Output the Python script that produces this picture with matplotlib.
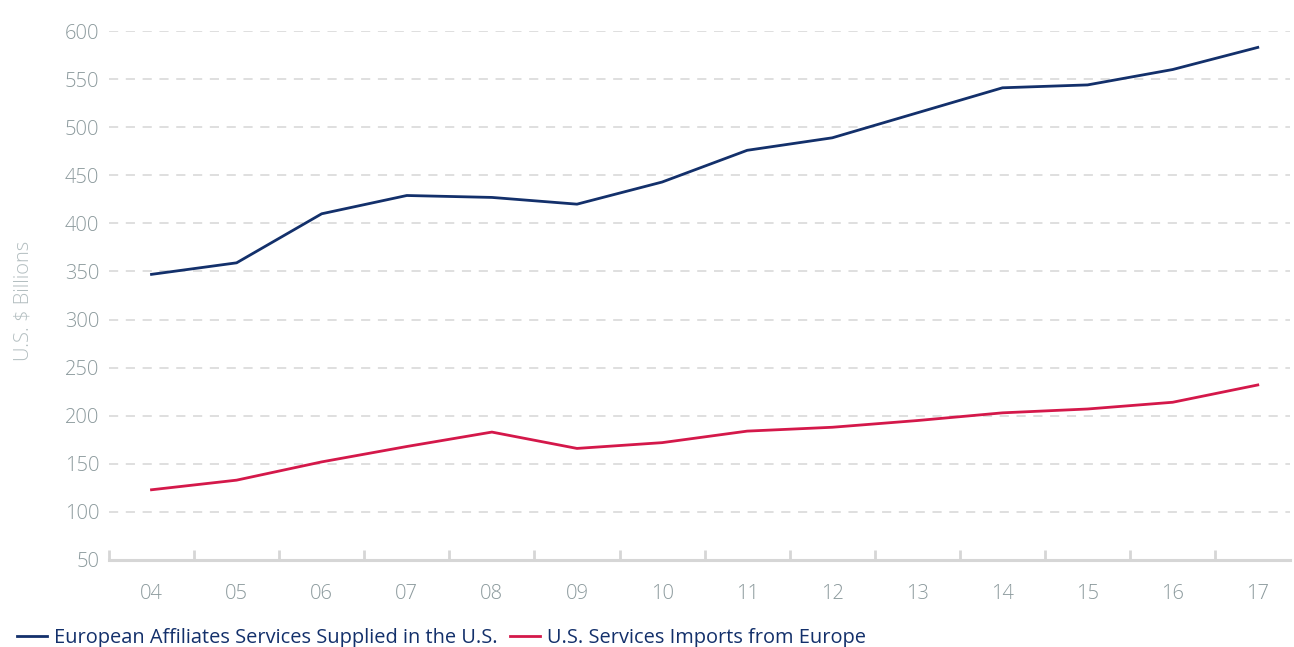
import matplotlib.pyplot as plt
import numpy as np

years = ['04', '05', '06', '07', '08', '09', '10', '11', '12', '13', '14', '15', '16', '17']
affiliates = [347, 359, 410, 429, 427, 420, 443, 476, 489, 515, 541, 544, 560, 583]
imports = [123, 133, 152, 168, 183, 166, 172, 184, 188, 195, 203, 207, 214, 232]
y_ticks = [50, 100, 150, 200, 250, 300, 350, 400, 450, 500, 550, 600]

navy = '#13306b'
red = '#d4184a'
tick_color = '#8c9a9d'
rule_color = '#d6d6d6'

plt.rcParams['font.family'] = ['Open Sans', 'DejaVu Sans']

fig = plt.figure(figsize=(12.94, 6.47), dpi=100)
ax = fig.add_axes([0.0842, 0.1345, 0.9128, 0.8175])

x = np.arange(len(years))
ax.plot(x, affiliates, color=navy, linewidth=2.0, label='European Affiliates Services Supplied in the U.S.')
ax.plot(x, imports, color=red, linewidth=2.0, label='U.S. Services Imports from Europe')

ax.set_xlim(-0.5, 13.38)
ax.set_ylim(50, 600)
ax.set_yticks(y_ticks)
ax.set_xticks(x)
ax.set_xticklabels(years)
ax.set_xticks(np.arange(-0.5, 13, 1), minor=True)

ax.grid(axis='y', color=rule_color, linestyle=(0, (6, 5)), linewidth=1.1)
ax.set_axisbelow(True)

for side in ['top', 'right', 'left']:
    ax.spines[side].set_visible(False)
ax.spines['bottom'].set_color(rule_color)
ax.spines['bottom'].set_linewidth(2.2)

for lbl in ax.get_xticklabels() + ax.get_yticklabels():
    lbl.set_fontweight('light')
ax.tick_params(axis='y', length=0, pad=7, labelsize=14.5, labelcolor=tick_color)
ax.tick_params(axis='x', which='major', length=0, pad=17, labelsize=14.5, labelcolor=tick_color)
ax.tick_params(axis='x', which='minor', direction='in', length=7, width=2, color=rule_color)

ax.set_ylabel('U.S. $ Billions', fontsize=14.5, color='#b3bec0', fontweight='light')
ax.yaxis.set_label_coords(-0.064, 0.49)

fig.legend(loc='lower left', bbox_to_anchor=(-0.001, -0.03), ncol=2, frameon=False,
           fontsize=14.4, handlelength=1.5, handletextpad=0.35, columnspacing=0.65,
           labelcolor=navy)

fig.savefig('out.png', dpi=100)
